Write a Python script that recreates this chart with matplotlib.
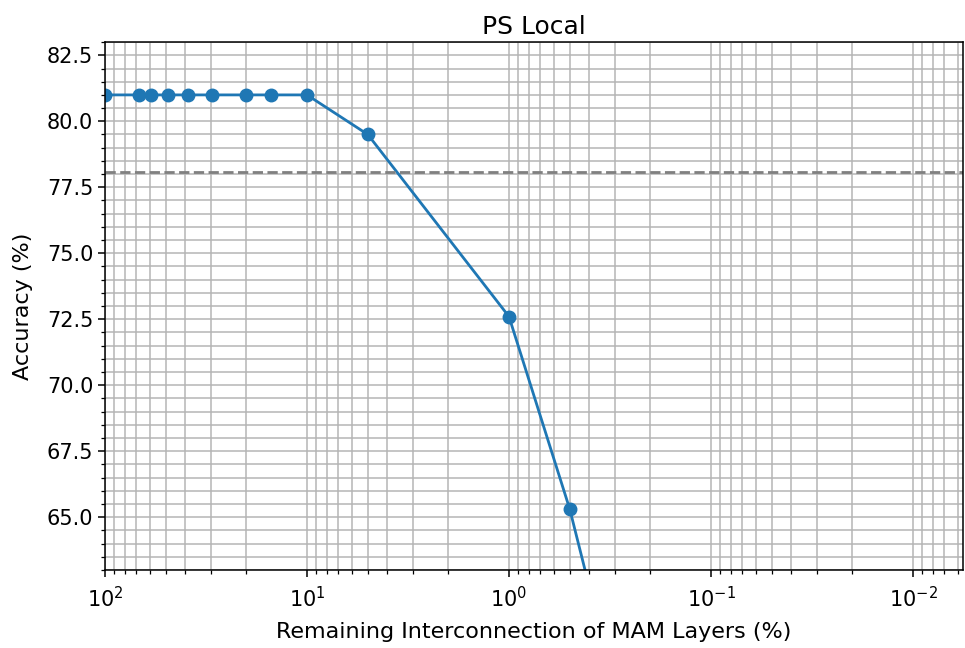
import matplotlib
matplotlib.use("Agg")
import matplotlib.pyplot as plt
import numpy as np

plt.rc('font', size=15)

# remaining interconnection (%) and accuracy (%)
remaining = [100, 67.5, 59, 49, 39, 29.5, 20, 15, 10, 5, 1, 0.5, 0.1]
accuracy = [81.0, 81.0, 81.0, 81.0, 81.0, 81.0, 81.0, 81.0, 81.0, 79.5, 72.6, 65.3, 44.0]
baseline = 78.07

fig = plt.figure(figsize=(9.65, 6.48), dpi=100)
ax = fig.add_subplot(111)
plt.subplots_adjust(left=0.1088, right=0.998, top=0.935, bottom=0.1204)

ax.plot(remaining, accuracy, marker='o', markersize=9, linewidth=2, color='C0')
ax.axhline(baseline, color='gray', linestyle='--', linewidth=2)

ax.set_xscale('log')
ax.set_xlim(100, 0.00565)
ax.set_ylim(63, 83)
ax.yaxis.set_major_locator(matplotlib.ticker.MultipleLocator(2.5))
ax.yaxis.set_minor_locator(matplotlib.ticker.MultipleLocator(0.5))
ax.tick_params(which='major', length=5, width=1.1, labelsize=15)
ax.tick_params(which='minor', length=3, width=0.9)
ax.tick_params(axis='x', which='major', pad=6.5)
for s in ax.spines.values():
    s.set_linewidth(1.1)

ax.grid(True, which='both', color='#b5b5b5', linewidth=1.1)
ax.set_xlabel('Remaining Interconnection of MAM Layers (%)', fontsize=16, labelpad=7.5)
ax.set_ylabel('Accuracy (%)', fontsize=16, labelpad=10)
ax.set_title('PS Local', fontsize=18)

plt.savefig('out.png', dpi=100)
